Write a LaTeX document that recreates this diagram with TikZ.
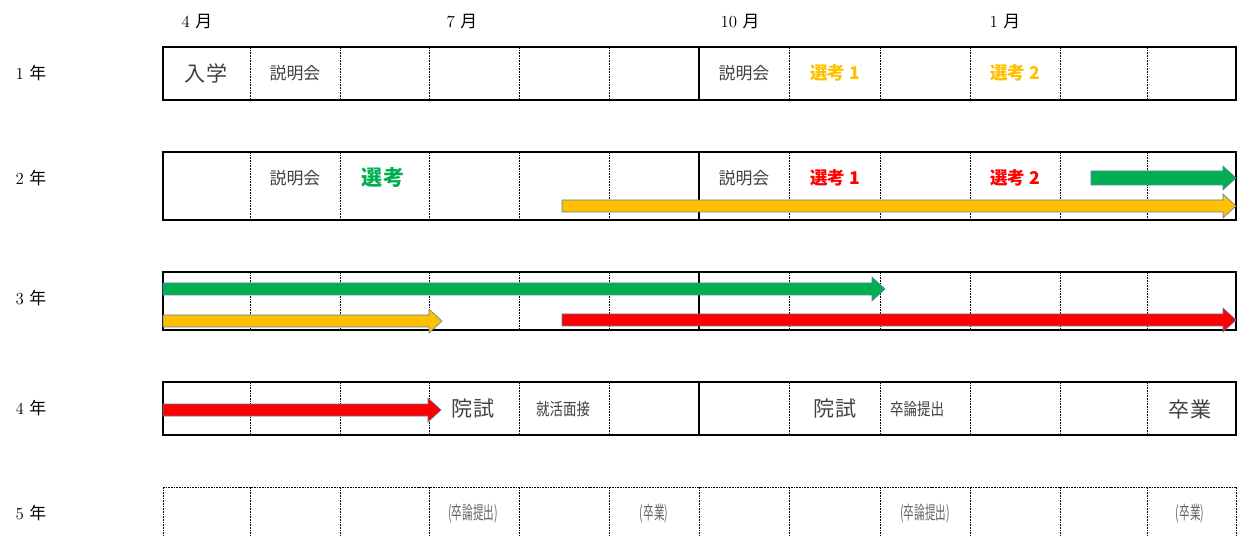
\documentclass[tikz,border=0pt]{standalone}
\usepackage{fontspec}
\newfontfamily\jp{Noto Sans CJK JP}
\definecolor{selorange}{HTML}{FFC000}
\definecolor{selgreen}{HTML}{00B050}
\definecolor{selred}{HTML}{FF0000}
\definecolor{arrowline}{HTML}{5B7DA8}
\definecolor{celltext}{HTML}{404040}
\tikzset{
  frame/.style={line width = 0.3mm},
  divider/.style={line width = 0.25mm, dash pattern=on 1.2pt off 0.7pt},
  cell/.style={font=\jp\fontsize{12}{14}\selectfont, text=celltext, inner sep=0pt},
  bigcell/.style={font=\jp\fontsize{15}{18}\selectfont, text=celltext, inner sep=0pt},
  smallcell/.style={font=\jp\fontsize{12}{14}\selectfont, text=celltext, inner sep=0pt, xscale=0.8},
  tinycell/.style={font=\jp\fontsize{13}{15}\selectfont, text=black!60, inner sep=0pt, xscale=0.58},
  selcell/.style={font=\jp\bfseries\fontsize{12.5}{14}\selectfont, inner sep=0pt},
  sidelabel/.style={font=\fontsize{12}{14}\selectfont, inner sep=0pt}
}
% arrow: colour, start x, tip x, y, half shaft
\newcommand{\tlarrow}[5]{%
  \filldraw[fill=#1, draw=arrowline, line width=0.4pt]
    (#2,#4-#5) -- (#3-13,#4-#5) -- (#3-13,#4-12) -- (#3,#4)
    -- (#3-13,#4+12) -- (#3-13,#4+#5) -- (#2,#4+#5) -- cycle;}
\begin{document}
\begin{tikzpicture}[x=0.025cm, y=-0.025cm]
	\useasboundingbox (0,0) rectangle (1240,536);
	
	% months
	\node[sidelabel] (m4) at (197,22) {4 {\jp 月}};
	\node[sidelabel] (m7) at (462,22) {7 {\jp 月}};
	\node[sidelabel] (m10) at (740,22) {10 {\jp 月}};
	\node[sidelabel] (m1) at (1005,22) {1 {\jp 月}};
	
	% years
	\node[sidelabel] (y1) at (31,73) {1 {\jp 年}};
	\node[sidelabel] (y2) at (31,178) {2 {\jp 年}};
	\node[sidelabel] (y3) at (31,298) {3 {\jp 年}};
	\node[sidelabel] (y4) at (31,408) {4 {\jp 年}};
	\node[sidelabel] (y5) at (31,513) {5 {\jp 年}};
	
	% row boxes
	\foreach \top/\bot in {47/100, 152/220, 272/330, 382/435} {
		\foreach \x in {250,340,429,519,609,789,880,970,1060,1147}
			\draw[divider] (\x,\top) -- (\x,\bot);
		\draw[frame] (163,\top) rectangle (1236,\bot);
		\draw[frame] (699,\top) -- (699,\bot);
	}
	
	% 5th year: dotted only
	\draw[divider] (163,487) -- (1236,487);
	\foreach \x in {163,250,340,429,519,609,699,789,880,970,1060,1147,1236}
		\draw[divider] (\x,487) -- (\x,536);
	
	% 1st year
	\node[bigcell] (a1) at (206,73) {入学};
	\node[cell] (a2) at (295,73) {説明会};
	\node[cell] (a7) at (744,73) {説明会};
	\node[selcell, text=selorange] (a8) at (835,73) {選考 \textbf{1}};
	\node[selcell, text=selorange] (a10) at (1015,73) {選考 \textbf{2}};
	
	% 2nd year
	\node[cell] (b2) at (295,178) {説明会};
	\node[selcell, text=selgreen, font=\jp\bfseries\fontsize{15}{18}\selectfont] (b3) at (383,178) {選考};
	\node[cell] (b7) at (744,178) {説明会};
	\node[selcell, text=selred] (b8) at (835,178) {選考 \textbf{1}};
	\node[selcell, text=selred] (b10) at (1015,178) {選考 \textbf{2}};
	\tlarrow{selgreen}{1091}{1236}{178}{7}
	\tlarrow{selorange}{562}{1236}{206}{6}
	
	% 3rd year
	\tlarrow{selgreen}{163}{885}{289}{6}
	\tlarrow{selorange}{163}{442}{321}{6}
	\tlarrow{selred}{562}{1236}{320}{6}
	
	% 4th year
	\tlarrow{selred}{163}{441}{410}{6}
	\node[bigcell] (d4) at (473,409) {院試};
	\node[smallcell] (d5) at (563,409) {就活面接};
	\node[bigcell] (d8) at (835,409) {院試};
	\node[smallcell] (d9) at (917,409) {卒論提出};
	\node[bigcell] (d12) at (1190,409) {卒業};
	
	% 5th year
	\node[tinycell] (e4) at (473,514) {(卒論提出)};
	\node[tinycell] (e6) at (654,514) {(卒業)};
	\node[tinycell] (e9) at (925,514) {(卒論提出)};
	\node[tinycell] (e12) at (1190,514) {(卒業)};
	
\end{tikzpicture}
\end{document}
